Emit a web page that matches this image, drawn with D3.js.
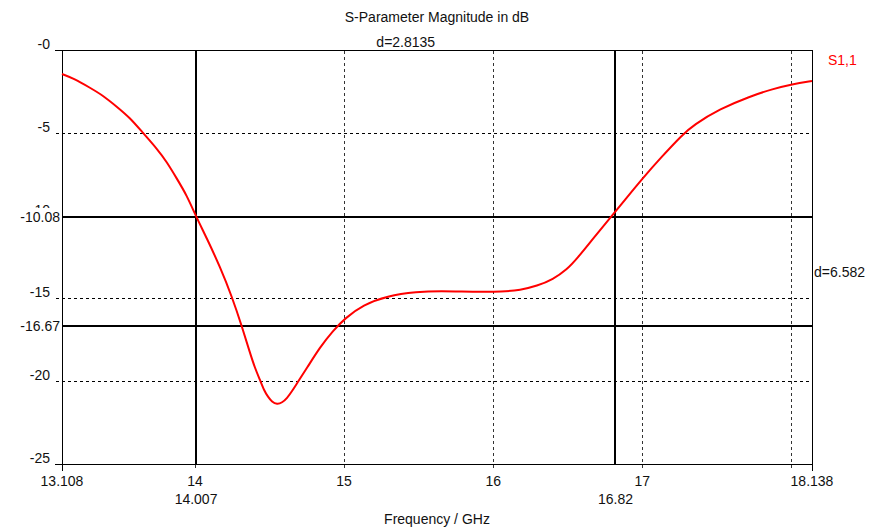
<!DOCTYPE html>
<html><head><meta charset="utf-8">
<script src="https://cdn.jsdelivr.net/npm/d3@7"></script>
<style>
html,body{margin:0;padding:0;background:#fff;}
text{font-family:"Liberation Sans",Arial,sans-serif;font-size:14px;fill:#111;}
</style></head>
<body><svg id="c" width="890" height="530"></svg>
<script>
// ---- data ----
const freqs = [13.108,13.184,13.296,13.385,13.475,13.564,13.653,13.743,13.810,13.877,13.944,14.007,14.081,14.168,14.248,14.315,14.369,14.402,14.436,14.463,14.490,14.516,14.550,14.584,14.617,14.651,14.684,14.751,14.838,14.926,15.006,15.127,15.288,15.489,15.643,15.865,16.066,16.180,16.294,16.401,16.495,16.562,16.669,16.783,16.897,17.005,17.119,17.273,17.340,17.521,17.722,17.876,18.004,18.138];
const s11 = [-1.45,-1.71,-2.28,-2.76,-3.42,-4.09,-5.03,-5.94,-6.75,-7.75,-8.76,-10.05,-11.4,-13.1,-14.9,-16.7,-18.3,-19.2,-19.93,-20.55,-20.95,-21.25,-21.4,-21.3,-21.03,-20.6,-20.13,-19.2,-17.95,-16.95,-16.2,-15.4,-14.85,-14.6,-14.55,-14.6,-14.6,-14.5,-14.25,-13.85,-13.25,-12.6,-11.4,-10.15,-8.9,-7.72,-6.55,-5.08,-4.55,-3.55,-2.8,-2.35,-2.07,-1.87];
const xDomain = [13.108, 18.138];
const yDomain = [-25, 0];
const xGridTicks = [14, 15, 16, 17, 18];
const xTickLabels = [[13.108,"13.108"],[14,"14"],[15,"15"],[16,"16"],[17,"17"],[18.138,"18.138"]];
const yGridTicks = [-5, -10, -15, -20];
const yTickLabels = [[0,"-0"],[-5,"-5"],[-10,"-10"],[-15,"-15"],[-20,"-20"],[-25,"-25"]];
const markerFreqs = [14.007, 16.82];
const markerFreqLabels = ["14.007", "16.82"];
const markerLevels = [-10.08, -16.67];
const markerLevelLabels = ["-10.08", "-16.67"];
const deltaFreqLabel = "d=2.8135";
const deltaLevelLabel = "d=6.582";
const title = "S-Parameter Magnitude in dB";
const xTitle = "Frequency / GHz";
const seriesName = "S1,1";

// ---- drawing ----
const svg = d3.select("#c");
const L = 62, R = 812, T = 50, B = 464;
const x = d3.scaleLinear().domain(xDomain).range([L, R]);
const y = d3.scaleLinear().domain(yDomain).range([B, T]);
const px = v => Math.round(v) + 0.5;

// horizontal dashed grid
svg.selectAll(".hg").data(yGridTicks).join("line")
  .attr("x1", L - 6).attr("x2", R - 2)
  .attr("y1", d => px(y(d))).attr("y2", d => px(y(d)))
  .attr("stroke", "#000").attr("stroke-width", 1).attr("stroke-dasharray", "3,3")
  .attr("shape-rendering", "crispEdges");

// vertical dashed grid
svg.selectAll(".vg").data(xGridTicks).join("line")
  .attr("x1", d => px(x(d))).attr("x2", d => px(x(d)))
  .attr("y1", T + 1).attr("y2", B + 7)
  .attr("stroke", "#333").attr("stroke-width", 1).attr("stroke-dasharray", "3,3")
  .attr("shape-rendering", "crispEdges");

// frame
const frame = svg.append("g").attr("stroke", "#000").attr("stroke-width", 1).attr("shape-rendering", "crispEdges");
frame.append("line").attr("x1", L - 7).attr("x2", R + 1).attr("y1", px(T)).attr("y2", px(T)).attr("stroke-width", 1.5);
frame.append("line").attr("x1", L - 7).attr("x2", R + 1).attr("y1", px(B)).attr("y2", px(B));
frame.append("line").attr("x1", px(L)).attr("x2", px(L)).attr("y1", T).attr("y2", B + 7);
frame.append("line").attr("x1", px(R)).attr("x2", px(R)).attr("y1", T).attr("y2", B + 7);

// markers
svg.selectAll(".mv").data(markerFreqs).join("line")
  .attr("x1", d => Math.round(x(d))).attr("x2", d => Math.round(x(d)))
  .attr("y1", T).attr("y2", B)
  .attr("stroke", "#000").attr("stroke-width", 2).attr("shape-rendering", "crispEdges");
svg.selectAll(".mh").data(markerLevels).join("line")
  .attr("x1", L).attr("x2", R)
  .attr("y1", d => Math.round(y(d))).attr("y2", d => Math.round(y(d)))
  .attr("stroke", "#000").attr("stroke-width", 2).attr("shape-rendering", "crispEdges");

// curve
svg.append("path")
  .datum(freqs.map((f, i) => [f, s11[i]]))
  .attr("d", d3.line().x(d => x(d[0])).y(d => y(d[1])).curve(d3.curveBasis))
  .attr("fill", "none").attr("stroke", "#f00").attr("stroke-width", 2);

// y tick labels
svg.selectAll(".yl").data(yTickLabels).join("text")
  .attr("x", 50).attr("y", d => y(d[0]) - 1)
  .attr("text-anchor", "end").text(d => d[1]);

// marker level labels with white background
markerLevels.forEach((v, i) => {
  const yy = y(v);
  svg.append("rect").attr("x", 16).attr("y", yy - 9).attr("width", 45).attr("height", 17).attr("fill", "#fff");
  svg.append("text").attr("x", 60).attr("y", yy + 5).attr("text-anchor", "end").text(markerLevelLabels[i]);
});

// x tick labels
svg.selectAll(".xl").data(xTickLabels).join("text")
  .attr("x", d => x(d[0])).attr("y", 486)
  .attr("text-anchor", "middle").text(d => d[1]);
svg.selectAll(".xm").data(markerFreqs).join("text")
  .attr("x", d => x(d)).attr("y", 504)
  .attr("text-anchor", "middle").text((d, i) => markerFreqLabels[i]);

// deltas
svg.append("text").attr("x", (x(markerFreqs[0]) + x(markerFreqs[1])) / 2).attr("y", 47)
  .attr("text-anchor", "middle").text(deltaFreqLabel);
svg.append("text").attr("x", R + 2).attr("y", (y(markerLevels[0]) + y(markerLevels[1])) / 2 + 6)
  .attr("text-anchor", "start").text(deltaLevelLabel);

// titles
svg.append("text").attr("x", (L + R) / 2).attr("y", 22).attr("text-anchor", "middle").text(title);
svg.append("text").attr("x", (L + R) / 2).attr("y", 524).attr("text-anchor", "middle").text(xTitle);
svg.append("text").attr("x", 828).attr("y", 65).attr("text-anchor", "start")
  .style("fill", "#f00").text(seriesName);
</script></body></html>
